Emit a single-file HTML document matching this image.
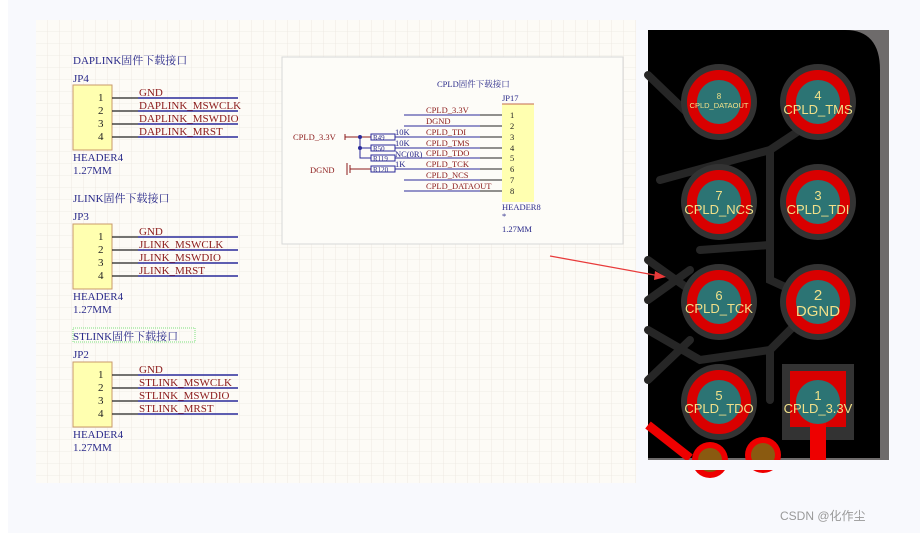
<!DOCTYPE html>
<html><head><meta charset="utf-8"><style>
html,body{margin:0;padding:0;width:920px;height:533px;overflow:hidden;background:#fff}
.sch text{font-family:"Liberation Serif","Noto Serif CJK SC",serif}
.pcb text{font-family:"Liberation Sans","Noto Sans CJK SC",sans-serif}
</style></head><body>
<svg width="920" height="533" viewBox="0 0 920 533" xmlns="http://www.w3.org/2000/svg">
<defs>
<pattern id="g" width="12" height="12" patternUnits="userSpaceOnUse" x="36" y="20">
<path d="M12 0V12M0 12H12" fill="none" stroke="#ebe7df" stroke-width="0.8"/>
</pattern>
</defs>
<rect x="8" y="0" width="912" height="533" fill="#f8f9fd"/>
<rect x="36" y="20" width="600" height="463" fill="#fdfbf6"/>
<rect x="36" y="20" width="600" height="463" fill="url(#g)"/>

<g class="sch">
<g font-size="11">
<text x="73" y="64" fill="#2a2a8a">DAPLINK固件下载接口</text>
<text x="73" y="82" fill="#2a2a8a">JP4</text>
<rect x="73" y="85" width="39" height="65" fill="#ffffb0" stroke="#c99a6a"/>
<g fill="#222"><text x="98" y="101">1</text><text x="98" y="114">2</text><text x="98" y="127">3</text><text x="98" y="140">4</text></g>
<g stroke="#222" stroke-width="1.3"><path d="M112 98H138M112 111H138M112 124H138M112 137H138"/></g>
<g stroke="#2a2a9a" stroke-width="1.5"><path d="M138 98H238M138 111H238M138 124H238M138 137H238"/></g>
<g fill="#8b1a1a"><text x="139" y="96">GND</text><text x="139" y="109">DAPLINK_MSWCLK</text><text x="139" y="122">DAPLINK_MSWDIO</text><text x="139" y="135">DAPLINK_MRST</text></g>
<text x="73" y="161" fill="#2a2a8a">HEADER4</text><text x="73" y="174" fill="#2a2a8a">1.27MM</text>

<text x="73" y="202" fill="#2a2a8a">JLINK固件下载接口</text>
<text x="73" y="220" fill="#2a2a8a">JP3</text>
<rect x="73" y="224" width="39" height="65" fill="#ffffb0" stroke="#c99a6a"/>
<g fill="#222"><text x="98" y="240">1</text><text x="98" y="253">2</text><text x="98" y="266">3</text><text x="98" y="279">4</text></g>
<g stroke="#222" stroke-width="1.3"><path d="M112 237H138M112 250H138M112 263H138M112 276H138"/></g>
<g stroke="#2a2a9a" stroke-width="1.5"><path d="M138 237H238M138 250H238M138 263H238M138 276H238"/></g>
<g fill="#8b1a1a"><text x="139" y="235">GND</text><text x="139" y="248">JLINK_MSWCLK</text><text x="139" y="261">JLINK_MSWDIO</text><text x="139" y="274">JLINK_MRST</text></g>
<text x="73" y="300" fill="#2a2a8a">HEADER4</text><text x="73" y="313" fill="#2a2a8a">1.27MM</text>

<rect x="73" y="328" width="122" height="14" fill="none" stroke="#7de07d" stroke-dasharray="1,1"/>
<text x="73" y="340" fill="#2a2a8a">STLINK固件下载接口</text>
<text x="73" y="358" fill="#2a2a8a">JP2</text>
<rect x="73" y="362" width="39" height="65" fill="#ffffb0" stroke="#c99a6a"/>
<g fill="#222"><text x="98" y="378">1</text><text x="98" y="391">2</text><text x="98" y="404">3</text><text x="98" y="417">4</text></g>
<g stroke="#222" stroke-width="1.3"><path d="M112 375H138M112 388H138M112 401H138M112 414H138"/></g>
<g stroke="#2a2a9a" stroke-width="1.5"><path d="M138 375H238M138 388H238M138 401H238M138 414H238"/></g>
<g fill="#8b1a1a"><text x="139" y="373">GND</text><text x="139" y="386">STLINK_MSWCLK</text><text x="139" y="399">STLINK_MSWDIO</text><text x="139" y="412">STLINK_MRST</text></g>
<text x="73" y="438" fill="#2a2a8a">HEADER4</text><text x="73" y="451" fill="#2a2a8a">1.27MM</text>
</g>

<rect x="282" y="57" width="341" height="187" fill="#fdfcf8" stroke="#d8d8d8"/>
<g font-size="8.5">
<text x="437" y="87" fill="#2a2a8a">CPLD固件下载接口</text>
<text x="502" y="101" fill="#2a2a8a">JP17</text>
<rect x="502" y="104" width="32" height="98" fill="#ffffb0"/>
<path d="M502 104H534" stroke="#c46a50" stroke-width="1"/>
<g stroke="#222" stroke-width="1"><path d="M480 115H502M480 126H502M480 137H502M480 148H502M480 158H502M480 169H502M480 180H502M480 191H502"/></g>
<g stroke="#2a2a9a" stroke-width="1"><path d="M404 115H480M404 126H480M395 137H480M395 148H480M395 158H480M395 169H480M404 180H480M404 191H480"/></g>
<g fill="#222"><text x="510" y="118">1</text><text x="510" y="129">2</text><text x="510" y="140">3</text><text x="510" y="151">4</text><text x="510" y="161">5</text><text x="510" y="172">6</text><text x="510" y="183">7</text><text x="510" y="194">8</text></g>
<g fill="#8b1a1a"><text x="426" y="113">CPLD_3.3V</text><text x="426" y="124">DGND</text><text x="426" y="135">CPLD_TDI</text><text x="426" y="146">CPLD_TMS</text><text x="426" y="156">CPLD_TDO</text><text x="426" y="167">CPLD_TCK</text><text x="426" y="178">CPLD_NCS</text><text x="426" y="189">CPLD_DATAOUT</text></g>
<g fill="#2a2a8a"><text x="395" y="135">10K</text><text x="395" y="146">10K</text><text x="395" y="157">NC(0R)</text><text x="395" y="167">1K</text></g>
<text x="293" y="140" fill="#8b1a1a">CPLD_3.3V</text>
<text x="310" y="173" fill="#8b1a1a">DGND</text>
<path d="M345 137H371M350 169H371" stroke="#8b1a1a" fill="none"/>
<path d="M360 137V158H371M360 148H371" stroke="#2a2a9a" fill="none"/>
<circle cx="360" cy="137" r="2" fill="#2a2a9a"/><circle cx="360" cy="148" r="2" fill="#2a2a9a"/>
<path d="M345 134V140M347 163V175M350 165V173" stroke="#8b1a1a"/>
<g fill="none" stroke="#2a2a9a"><rect x="371" y="134" width="24" height="6"/><rect x="371" y="145" width="24" height="6"/><rect x="371" y="155" width="24" height="6"/><rect x="371" y="166" width="24" height="6"/></g>
<g fill="#2a2a8a" font-size="7"><text x="373" y="140">R49</text><text x="373" y="151">R50</text><text x="373" y="161">R119</text><text x="373" y="172">R120</text></g>
<text x="502" y="210" fill="#2a2a8a">HEADER8</text><text x="502" y="219" fill="#2a2a8a">*</text><text x="502" y="232" fill="#2a2a8a">1.27MM</text>
</g>
</g>

<g class="pcb">
<rect x="648" y="30" width="241" height="430" fill="#6e6b6b"/>
<path d="M648 30H845Q880 30 880 70V458H648Z" fill="#000"/>
<g stroke="#262626" stroke-width="8" fill="none" stroke-linecap="round">
<path d="M648 75L700 125M660 180L770 150L800 130M770 150V280L818 302M700 250L770 245M648 300L690 270M648 330L700 360L770 350L818 302M648 260L690 290M690 340L648 380M770 350V400"/>
</g>
<path d="M648 425L690 458" stroke="#e00" stroke-width="9"/>
<g fill="#333"><circle cx="719" cy="102" r="38"/><circle cx="818" cy="102" r="38"/><circle cx="719" cy="202" r="38"/><circle cx="818" cy="202" r="38"/><circle cx="719" cy="302" r="38"/><circle cx="818" cy="302" r="38"/><circle cx="719" cy="402" r="38"/><rect x="782" y="364" width="72" height="76"/></g>
<rect x="790" y="371" width="56" height="56" fill="#d90000"/>
<rect x="810" y="420" width="16" height="40" fill="#e00"/>
<g fill="#d90000"><circle cx="719" cy="102" r="32"/><circle cx="818" cy="102" r="32"/><circle cx="719" cy="202" r="32"/><circle cx="818" cy="202" r="32"/><circle cx="719" cy="302" r="32"/><circle cx="818" cy="302" r="32"/><circle cx="719" cy="402" r="32"/></g>
<g fill="#2c7474"><circle cx="719" cy="102" r="22"/><circle cx="818" cy="102" r="22"/><circle cx="719" cy="202" r="22"/><circle cx="818" cy="202" r="22"/><circle cx="719" cy="302" r="22"/><circle cx="818" cy="302" r="22"/><circle cx="719" cy="402" r="22"/><circle cx="818" cy="402" r="22"/></g>
<circle cx="710" cy="460" r="18" fill="#e00"/><circle cx="710" cy="460" r="12" fill="#8a5a10"/>
<circle cx="763" cy="455" r="18" fill="#e00"/><circle cx="763" cy="455" r="12" fill="#8a5a10"/>
<rect x="648" y="460" width="241" height="10" fill="#f8f9fd"/>
<g fill="#f0e08a" text-anchor="middle">
<text x="719" y="99" font-size="8">8</text><text x="719" y="108" font-size="7.5">CPLD_DATAOUT</text>
<text x="818" y="100" font-size="13">4</text><text x="818" y="114" font-size="13">CPLD_TMS</text>
<text x="719" y="200" font-size="13">7</text><text x="719" y="214" font-size="13">CPLD_NCS</text>
<text x="818" y="200" font-size="13">3</text><text x="818" y="214" font-size="13">CPLD_TDI</text>
<text x="719" y="300" font-size="13">6</text><text x="719" y="313" font-size="13">CPLD_TCK</text>
<text x="818" y="300" font-size="15">2</text><text x="818" y="316" font-size="15">DGND</text>
<text x="719" y="400" font-size="13">5</text><text x="719" y="413" font-size="13">CPLD_TDO</text>
<text x="818" y="400" font-size="13">1</text><text x="818" y="413" font-size="13">CPLD_3.3V</text>
</g>
<text x="780" y="520" font-size="12" fill="#999">CSDN @化作尘</text>
</g>

<path d="M550 256L660 276" stroke="#e83a3a" stroke-width="1.2"/>
<path d="M666 277L655 271L654 280Z" fill="#e83a3a"/>
</svg>
</body></html>
